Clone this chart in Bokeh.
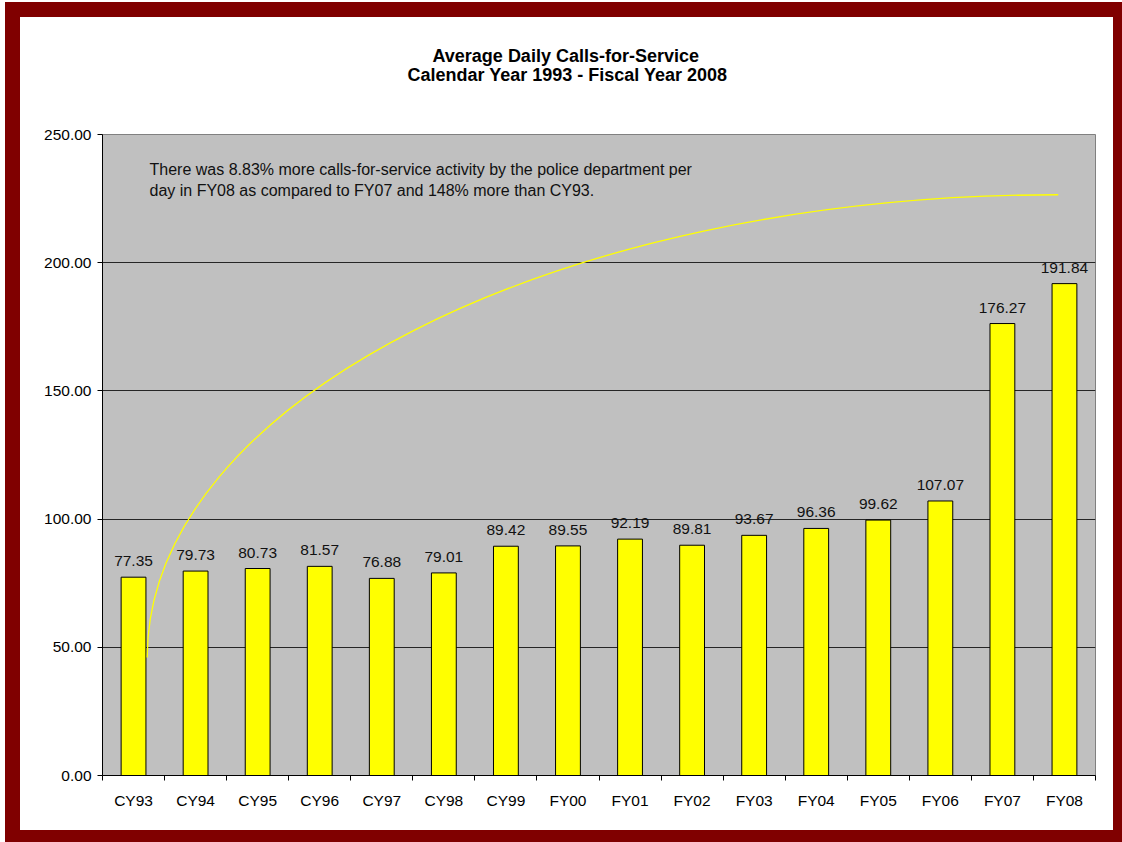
from bokeh.plotting import figure
from bokeh.models import (ColumnDataSource, FixedTicker, NumeralTickFormatter,
                          Range1d, Label, LabelSet, Title)
from bokeh.embed import file_html
from bokeh.resources import INLINE
from bokeh.core.properties import value

# ---------------- data ----------------
categories = ["CY93", "CY94", "CY95", "CY96", "CY97", "CY98", "CY99", "FY00",
              "FY01", "FY02", "FY03", "FY04", "FY05", "FY06", "FY07", "FY08"]
calls_per_day = [77.35, 79.73, 80.73, 81.57, 76.88, 79.01, 89.42, 89.55,
                 92.19, 89.81, 93.67, 96.36, 99.62, 107.07, 176.27, 191.84]
y_ticks = [0, 50, 100, 150, 200, 250]
grid_ticks = [50, 100, 150, 200]
title_lines = ["Average Daily Calls-for-Service",
               "Calendar Year 1993 - Fiscal Year 2008"]
note_lines = ["There was 8.83% more calls-for-service activity by the police department per",
              "day in FY08 as compared to FY07 and 148% more than CY93."]
# decorative curve drawn on the chart (start / end, data coordinates)
curve_start = [0.72, 46.0]
curve_end = [15.40, 226.5]

FONT = "Liberation Sans"
n = len(categories)
xs = [i + 0.5 for i in range(n)]
bar_labels = ["%.2f" % v for v in calls_per_day]

# element (content box) size; the canvas itself ends up as large as the
# border box, the part under the right/bottom border is clipped
W, H = 1093, 813
BL, BT, BR, BB = 15, 15, 9, 12
CW, CH = W + BL + BR, H + BT + BB          # actual canvas size
ML, MT = 82, 117
FW, FH = 993, 641
MR, MB = CW - ML - FW, CH - MT - FH
YMAX = 250.0
CANVAS_X0, CANVAS_Y0 = 20, 17   # page position of canvas


def dx(px):   # page x pixel -> data x
    return (px - CANVAS_X0 - ML) / FW * n


def dy(py):   # page y pixel -> data y
    return (CANVAS_Y0 + MT + FH - py) / FH * YMAX


src = ColumnDataSource(dict(x=xs, top=calls_per_day, label=bar_labels))

p = figure(width=W, height=H, x_range=Range1d(0, n), y_range=Range1d(0, YMAX),
           output_backend="svg", toolbar_location=None, title=None,
           min_border_left=ML, min_border_right=MR, min_border_top=MT,
           min_border_bottom=MB,
           background_fill_color="#C0C0C0", border_fill_color="white",
           outline_line_color="#808080", outline_line_width=1)

p.styles = {"box-sizing": "content-box", "margin-left": "5px", "margin-top": "2px",
            "border-style": "solid", "border-color": "#800000",
            "border-width": f"{BT}px {BR}px {BB}px {BL}px"}

# grid
p.xgrid.visible = False
p.ygrid.ticker = FixedTicker(ticks=grid_ticks)
p.ygrid.grid_line_color = "#262626"
p.ygrid.grid_line_width = 1

# bars
p.vbar(x="x", top="top", width=0.4, source=src, fill_color="#FFFF00",
       line_color="black", line_width=1)

p.add_layout(LabelSet(x="x", y="top", text="label", source=src, y_offset=11,
                      text_align="center", text_baseline="alphabetic",
                      text_font=value(FONT), text_font_size="15.5px",
                      text_color="#111111"))

# decorative curve
k = 0.5523
rx = curve_end[0] - curve_start[0]
ry = curve_end[1] - curve_start[1]
p.bezier(x0=[curve_start[0]], y0=[curve_start[1]], x1=[curve_end[0]], y1=[curve_end[1]],
         cx0=[curve_start[0]], cy0=[curve_start[1] + k * ry],
         cx1=[curve_end[0] - k * rx], cy1=[curve_end[1]],
         line_color="#FFFF00", line_width=1.3)

# axes
xa = p.xaxis[0]
xa.ticker = FixedTicker(ticks=xs, minor_ticks=list(range(n + 1)))
xa.major_label_overrides = {x: c for x, c in zip(xs, categories)}
xa.major_tick_out = 0
xa.major_tick_in = 0
xa.minor_tick_out = 5
xa.minor_tick_in = 0
xa.minor_tick_line_color = "black"
xa.axis_line_color = "black"
xa.major_label_standoff = 11
xa.major_label_text_font = FONT
xa.major_label_text_font_size = "15.5px"
xa.major_label_text_color = "black"

ya = p.yaxis[0]
ya.ticker = FixedTicker(ticks=y_ticks)
ya.formatter = NumeralTickFormatter(format="0.00")
ya.major_tick_out = 5
ya.major_tick_in = 0
ya.minor_tick_line_color = None
ya.axis_line_color = "black"
ya.major_tick_line_color = "black"
ya.major_label_standoff = 6
ya.major_label_text_font = FONT
ya.major_label_text_font_size = "15.5px"
ya.major_label_text_color = "black"

# title: "above" panels stack outward from the frame.
# an empty spacer panel first, then the second line, then the first line
p.add_layout(Title(text=" ", text_font_size="1px", standoff=48), "above")
title_offsets = [330, 305]
for idx in (1, 0):
    p.add_layout(Title(text=title_lines[idx], align="left", offset=title_offsets[idx],
                       standoff=-2.6, text_font=FONT,
                       text_font_size="18px", text_font_style="bold",
                       text_color="black"), "above")

# note
for i, line in enumerate(note_lines):
    p.add_layout(Label(x=dx(149), y=dy(169 + 21 * i), text=line, text_align="left",
                       text_baseline="middle", text_font=FONT,
                       text_font_size="16px", text_color="#111111"))

open("out.html", "w").write(file_html(p, INLINE))
